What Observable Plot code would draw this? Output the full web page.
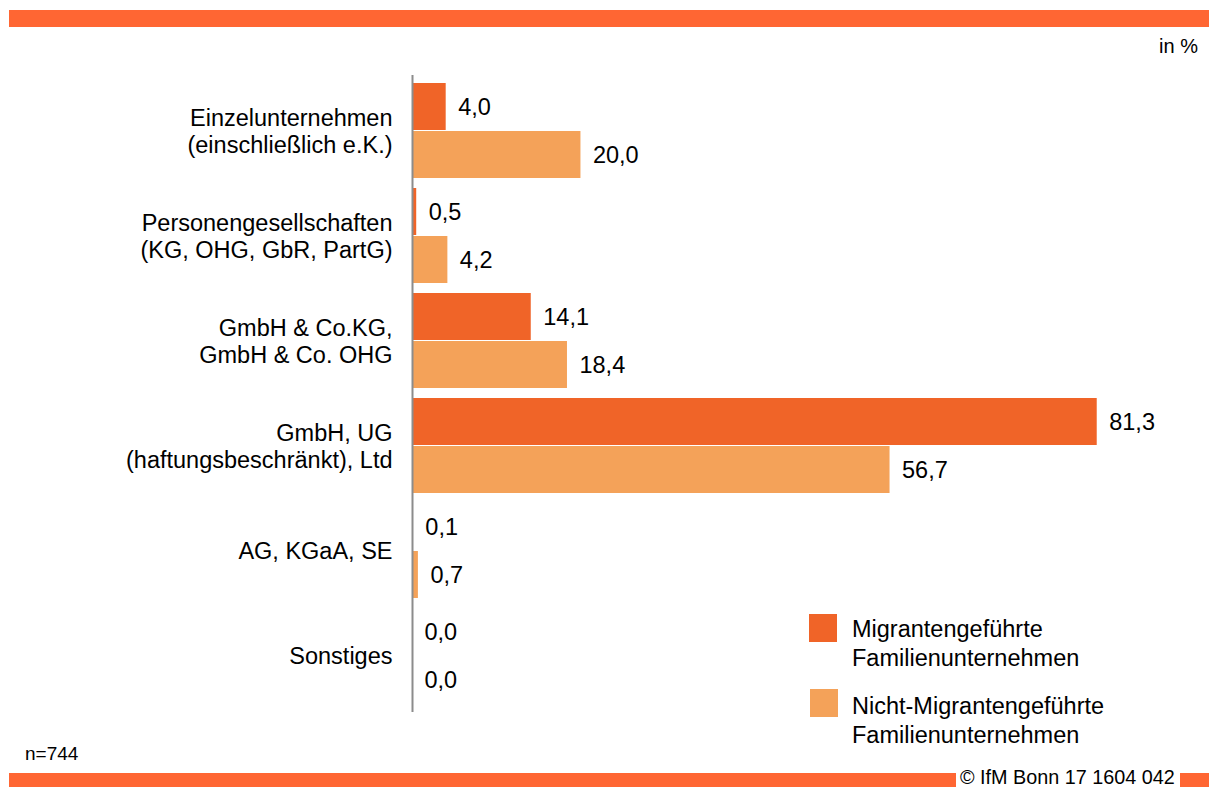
<!DOCTYPE html>
<html>
<head>
<meta charset="utf-8">
<script src="https://cdn.jsdelivr.net/npm/d3@7"></script>
<script src="https://cdn.jsdelivr.net/npm/@observablehq/plot@0.6"></script>
<style>
  html, body { margin: 0; padding: 0; background: #fff; }
  body { font-family: "Liberation Sans", Arial, sans-serif; color: #000; }
  #wrap { position: relative; width: 1209px; height: 787px; overflow: hidden; }
  #chart { position: absolute; left: 0; top: 0; }
  .abs { position: absolute; white-space: nowrap; }
  .bar { position: absolute; background: #FF6633; }
</style>
</head>
<body>
<div id="wrap">
  <div id="chart"></div>
  <div class="bar" style="left:9px; top:10px; width:1200px; height:17px;"></div>
  <div class="abs" id="unit" style="right:11px; top:36px; font-size:20px; line-height:20px;"></div>
  <div id="legend"></div>
  <div class="abs" id="note" style="left:25px; top:744px; font-size:19px; line-height:19px;"></div>
  <div class="bar" style="left:9px; top:773px; width:947px; height:14px;"></div>
  <div class="abs" id="source" style="left:960px; top:767px; font-size:19.8px; line-height:20px;"></div>
  <div class="bar" style="left:1180px; top:773px; width:29px; height:14px;"></div>
</div>
<script>
const categories = [
  "Einzelunternehmen\n(einschließlich e.K.)",
  "Personengesellschaften\n(KG, OHG, GbR, PartG)",
  "GmbH & Co.KG,\nGmbH & Co. OHG",
  "GmbH, UG\n(haftungsbeschränkt), Ltd",
  "AG, KGaA, SE",
  "Sonstiges"
];
const migrant = [4.0, 0.5, 14.1, 81.3, 0.1, 0.0];
const nonMigrant = [20.0, 4.2, 18.4, 56.7, 0.7, 0.0];
const seriesNames = [
  "Migrantengeführte\nFamilienunternehmen",
  "Nicht-Migrantengeführte\nFamilienunternehmen"
];
const seriesColors = ["#F06428", "#F4A259"];
const unitText = "in %";
const noteText = "n=744";
const sourceText = "© IfM Bonn 17 1604 042";

const dataM = categories.map((c, i) => ({category: c, value: migrant[i]}));
const dataN = categories.map((c, i) => ({category: c, value: nonMigrant[i]}));
const fmt = v => v.toFixed(1).replace(".", ",");
const font = '"Liberation Sans", Arial, sans-serif';

const chart = Plot.plot({
  width: 1209,
  height: 787,
  marginTop: 75,
  marginBottom: 75,
  marginLeft: 412,
  marginRight: 39,
  style: {fontFamily: font, background: "transparent", color: "#000"},
  x: {domain: [0, 90], axis: null},
  y: {domain: categories, paddingInner: 0.0943, paddingOuter: 0.052, label: null},
  marks: [
    Plot.barX(dataM, {x: "value", y: "category", fill: seriesColors[0], insetBottom: 48}),
    Plot.barX(dataN, {x: "value", y: "category", fill: seriesColors[1], insetTop: 48}),
    Plot.ruleX([0], {stroke: "#8C8C8C", strokeWidth: 2}),
    Plot.text(dataM, {x: "value", y: "category", text: d => fmt(d.value), dx: 12, dy: -24, textAnchor: "start", fontSize: 23.5, fill: "#000"}),
    Plot.text(dataN, {x: "value", y: "category", text: d => fmt(d.value), dx: 12, dy: 24, textAnchor: "start", fontSize: 23.5, fill: "#000"}),
    Plot.axisY({tickSize: 0, tickPadding: 20, fontSize: 23.5, lineHeight: 1.12, label: null, fill: "#000"})
  ]
});
document.getElementById("chart").appendChild(chart);

document.getElementById("unit").textContent = unitText;
document.getElementById("note").textContent = noteText;
document.getElementById("source").textContent = sourceText;

const legend = document.getElementById("legend");
const legendPos = [{sq: [809, 614], tx: [852, 615]}, {sq: [810, 689], tx: [852, 692]}];
seriesNames.forEach((name, i) => {
  const sq = document.createElement("div");
  sq.style.cssText = `position:absolute;left:${legendPos[i].sq[0]}px;top:${legendPos[i].sq[1]}px;width:28px;height:28px;background:${seriesColors[i]};`;
  legend.appendChild(sq);
  const tx = document.createElement("div");
  tx.className = "abs";
  tx.style.cssText += `left:${legendPos[i].tx[0]}px;top:${legendPos[i].tx[1]}px;font-size:23.5px;line-height:29px;white-space:pre;`;
  tx.textContent = name;
  legend.appendChild(tx);
});
</script>
</body>
</html>
